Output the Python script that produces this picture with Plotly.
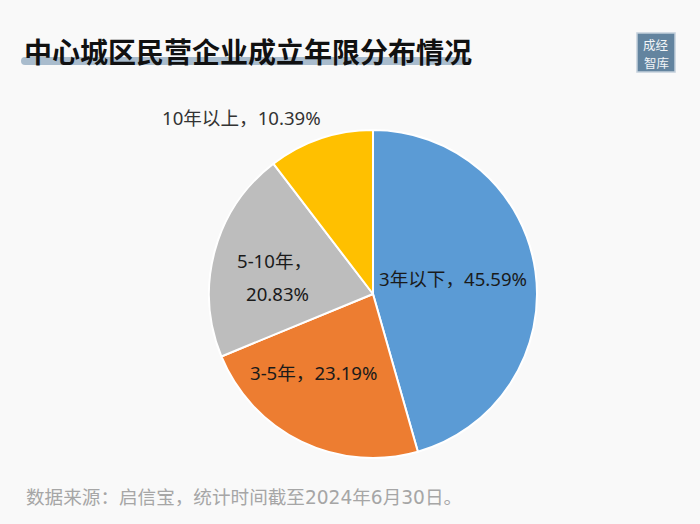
import plotly.graph_objects as go

# dados do grafico
categorias = ["3年以下", "3-5年", "5-10年", "10年以上"]
valores = [45.59, 23.19, 20.83, 10.39]
rotulos = ["3年以下，45.59%", "3-5年，23.19%", "5-10年，", "20.83%", "10年以上，10.39%"]
cores = ["#5B9BD5", "#ED7D31", "#BDBDBD", "#FFC000"]

titulo = "<b>中心城区民营企业成立年限分布情况</b>"
fonte_dados = "数据来源：启信宝，统计时间截至2024年6月30日。"
selo = ["成经", "智库"]

L, A = 700, 524
fonte_cjk = "Noto Sans CJK SC"
fonte_rotulo = "Noto Sans, Noto Sans CJK SC"
fonte_rodape = "DejaVu Sans, Noto Sans CJK SC"


def px_x(x):
    return x / L


def px_y(y):
    return 1 - y / A


def adicionar_texto(fig, texto, x, y, fonte, tamanho, cor, ancora="center"):
    fig.add_annotation(text=texto, xref="paper", yref="paper", x=px_x(x), y=px_y(y),
                       xanchor=ancora, yanchor="middle", showarrow=False,
                       font=dict(family=fonte, size=tamanho, color=cor))


def caminho_faixa(x0, x1, y0, y1):
    # retangulo com pontas arredondadas, em coordenadas do papel
    r = (y1 - y0) / 2
    ym = (y0 + y1) / 2
    a, b = px_x(x0), px_x(x1)
    c, d = px_x(x0 + r), px_x(x1 - r)
    t, m, f = px_y(y0), px_y(ym), px_y(y1)
    return (f"M {c} {t} L {d} {t} Q {b} {t} {b} {m} Q {b} {f} {d} {f} "
            f"L {c} {f} Q {a} {f} {a} {m} Q {a} {t} {c} {t} Z")


fig = go.Figure()

fig.add_trace(go.Pie(
    labels=categorias,
    values=valores,
    textinfo="none",
    sort=False,
    direction="clockwise",
    rotation=0,
    marker=dict(colors=cores, line=dict(color="#ffffff", width=2)),
    domain=dict(x=[px_x(209), px_x(537)], y=[px_y(458), px_y(130)]),
    showlegend=False,
))

# faixa do titulo e selo
fig.add_shape(type="path", xref="paper", yref="paper", layer="below",
              path=caminho_faixa(21, 470, 57, 65),
              fillcolor="#A9BCCD", line=dict(width=0))
fig.add_shape(type="rect", xref="paper", yref="paper",
              x0=px_x(637), x1=px_x(675), y0=px_y(72), y1=px_y(33),
              fillcolor="#63849F", line=dict(color="#C3D0DB", width=1.5))

adicionar_texto(fig, titulo, 22, 51, fonte_cjk, 28, "#111111", "left")
adicionar_texto(fig, fonte_dados, 24, 497, fonte_rodape, 18.6, "#a6a6a6", "left")
adicionar_texto(fig, selo[0], 656, 44, fonte_cjk, 12.5, "#f2f5f7")
adicionar_texto(fig, selo[1], 656, 62, fonte_cjk, 12.5, "#f2f5f7")

# rotulos das fatias
centros_rotulos = [(453, 278), (313, 372), (274, 260), (277, 293), (241, 117)]
cores_rotulos = ["#1a1a1a", "#1a1a1a", "#1a1a1a", "#1a1a1a", "#333333"]
for texto, (x, y), cor in zip(rotulos, centros_rotulos, cores_rotulos):
    adicionar_texto(fig, texto, x, y, fonte_rotulo, 18.6, cor)

fig.update_layout(
    width=L, height=A,
    margin=dict(l=0, r=0, t=0, b=0),
    paper_bgcolor="#F9F9F9",
    plot_bgcolor="#F9F9F9",
)

fig.write_html("out.html", config=dict(displayModeBar=False),
               post_script="document.body.style.margin='0';")
